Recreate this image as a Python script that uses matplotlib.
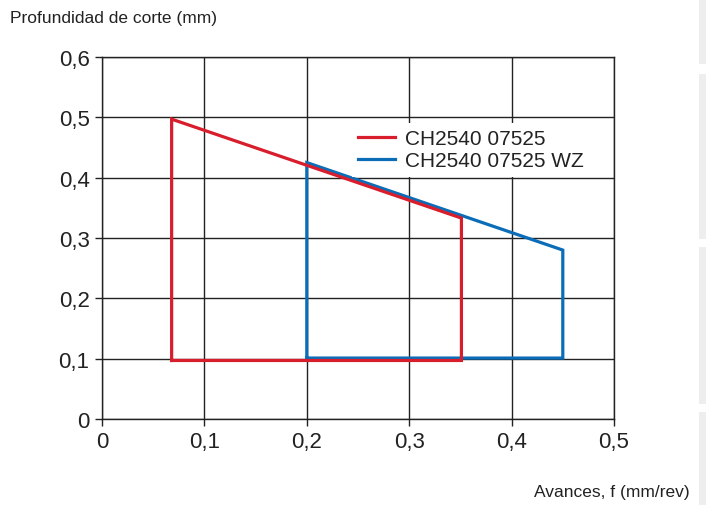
import matplotlib
matplotlib.use("Agg")
import matplotlib.pyplot as plt
from matplotlib.patches import Rectangle

plt.rcParams['font.family'] = ["Liberation Sans", "DejaVu Sans"]

red_x = [0.068, 0.068, 0.351, 0.351, 0.068]
red_y = [0.097, 0.497, 0.333, 0.097, 0.097]
blue_x = [0.200, 0.200, 0.450, 0.450, 0.200]
blue_y = [0.101, 0.425, 0.280, 0.101, 0.101]
labels = ["CH2540 07525", "CH2540 07525 WZ"]
xticks = [0, 0.1, 0.2, 0.3, 0.4, 0.5]
xticklabels = ["0", "0,1", "0,2", "0,3", "0,4", "0,5"]
yticks = [0, 0.1, 0.2, 0.3, 0.4, 0.5, 0.6]
yticklabels = ["0", "0,1", "0,2", "0,3", "0,4", "0,5", "0,6"]

fig = plt.figure(figsize=(7.06, 5.06), dpi=100)
ax = fig.add_axes([102/706, 86/506, 512/706, 362/506])
ax.plot(red_x, red_y, color="#d81e2c", lw=2.3, label=labels[0], solid_joinstyle="miter", zorder=3)
ax.plot(blue_x, blue_y, color="#0b6db7", lw=2.3, label=labels[1], solid_joinstyle="miter", zorder=2)
ax.set_xlim(0, 0.5)
ax.set_ylim(0, 0.6)
ax.set_xticks(xticks)
ax.set_xticklabels(xticklabels)
ax.set_yticks(yticks)
ax.set_yticklabels(yticklabels)
ax.grid(True, color="#222222", lw=1.0)
ax.set_axisbelow(True)
for s in ax.spines.values():
    s.set_color("#222222")
    s.set_linewidth(1.0)
ax.tick_params(labelsize=16, colors="#222222", length=5, width=1.0, pad=4, labelcolor="#222222")
leg = ax.legend(loc="upper left", bbox_to_anchor=(0.488, 0.818), frameon=True, fontsize=15,
                handlelength=1.75, handletextpad=0.5, borderpad=0.3, labelspacing=0.15, fancybox=False,
                borderaxespad=0)
leg.get_frame().set_edgecolor("none")
leg.get_frame().set_facecolor("white")
leg.get_frame().set_alpha(1)
for t in leg.get_texts():
    t.set_color("#222222")

fig.text(10/706, 1 - 18/506, "Profundidad de corte (mm)", fontsize=12.5, color="#222222", va="center", ha="left")
fig.text(690/706, 1 - 493/506, "Avances, f (mm/rev)", fontsize=12.5, color="#222222", va="center", ha="right")

for y0, y1 in [(0, 65), (75, 240), (248, 405), (413, 506)]:
    fig.patches.append(Rectangle((699/706, 1 - y1/506), 7/706, (y1 - y0)/506,
                                 transform=fig.transFigure, facecolor="#eeeeee", edgecolor="none"))

fig.savefig("out.png", dpi=100)
